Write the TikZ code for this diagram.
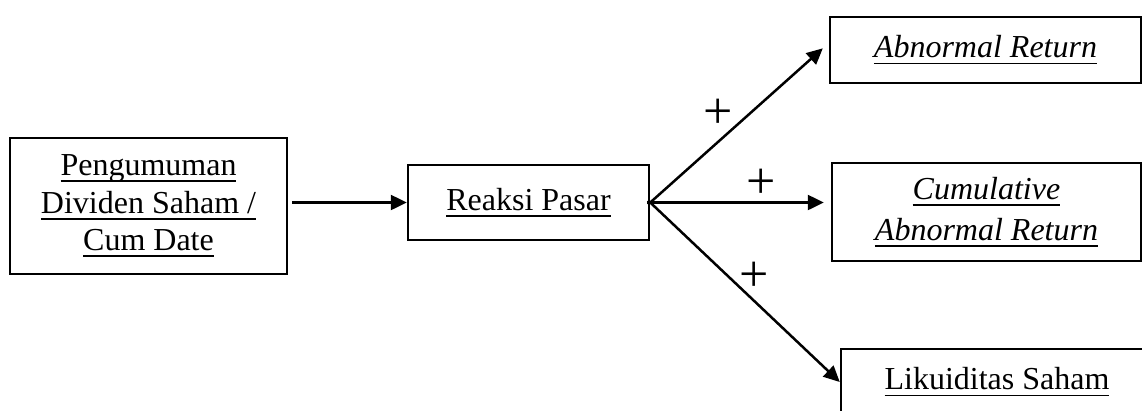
\documentclass[tikz,border=0pt]{standalone}
\usepackage{fontspec}
\setmainfont{Liberation Serif}
\usetikzlibrary{arrows.meta}
\newcommand\myul[1]{\setbox0\hbox{#1}\rlap{\rule[-6.5pt]{\wd0}{1.8pt}}\box0}
\tikzset{
  box/.style={draw, line width=2.5pt, align=center, inner sep=0pt,
    font=\fontsize{32}{37.5}\selectfont},
  arr/.style={line width=2.5pt, -{Triangle[length=16pt,width=15pt]}},
  plus/.style={inner sep=0pt, font=\fontsize{52}{52}\selectfont}
}
\begin{document}
\begin{tikzpicture}[x=1pt,y=-1pt]
\useasboundingbox (0,0) rectangle (1142,410);
\clip (0,0) rectangle (1142,410);
\node[box, minimum width=277pt, minimum height=136pt] (b1) at (148.5,206)
  {\myul{Pengumuman}\\\myul{Dividen Saham /}\\\myul{Cum Date}};
\node[box, minimum width=241pt, minimum height=75pt] (b2) at (528.5,202.5)
  {\myul{Reaksi Pasar}};
\node[box, minimum width=311pt, minimum height=66pt] (b3) at (985.5,50)
  {\myul{\itshape Abnormal Return}};
\node[box, minimum width=309pt, minimum height=98pt,
  font=\fontsize{32}{41}\selectfont] (b4) at (986.5,212)
  {\myul{\itshape Cumulative}\\\myul{\itshape Abnormal Return}};
\node[box, minimum width=312pt, minimum height=66pt] (b5) at (997,382)
  {\myul{Likuiditas Saham}};
\draw[arr, shorten <=4pt] (b1.east |- b2.west) -- (b2.west);
\draw[arr, shorten <=-3pt, shorten >=8pt] (b2.east) -- ([yshift=7pt]b3.west);
\draw[arr, shorten <=-3pt, shorten >=7pt] (b2.east) -- (b2.east -| b4.west);
\draw[arr, shorten <=-3pt] (b2.east) -- (b5.west);
\node[plus] (p1) at (718,114) {+};
\node[plus] (p2) at (761,184) {+};
\node[plus] (p3) at (754,277) {+};
\end{tikzpicture}
\end{document}
